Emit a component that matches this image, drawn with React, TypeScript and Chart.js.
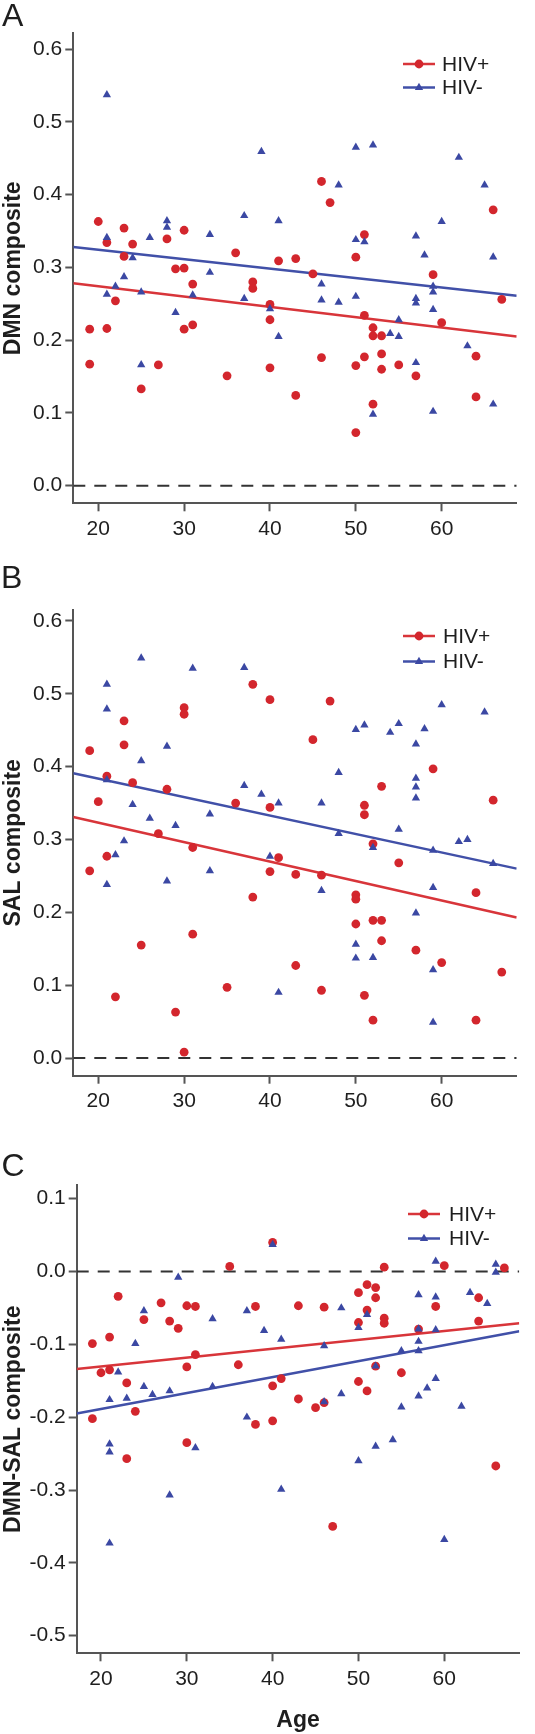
import React, { useEffect, useRef } from "react";
import { Chart, registerables } from "chart.js";

Chart.register(...registerables);

const FONT = "'Liberation Sans', Arial, Helvetica, sans-serif";
const RED = "#d3262d";
const BLUE = "#3b48a3";
const RED_LINE = "#d8353a";
const BLUE_LINE = "#4150a8";
const AXIS = "#555555";
const TEXT = "#1e1e1e";

// ---------- shared tick labels ----------
const xTickValues = [20, 30, 40, 50, 60];
const yTicksAB = [0, 0.1, 0.2, 0.3, 0.4, 0.5, 0.6];
const yTicksC = [-0.5, -0.4, -0.3, -0.2, -0.1, 0, 0.1];

// ---------- Panel A: DMN composite ----------
const dmnPlusAge = [46, 47, 66, 20, 23, 30, 51, 24, 21, 28, 36, 50, 23, 41, 43, 29, 30, 45, 59, 31, 38, 38, 19, 21, 22, 19, 25, 27, 30, 31, 35, 40, 40, 40, 43, 46, 50, 50, 51, 51, 52, 52, 52, 53, 53, 53, 55, 57, 60, 64, 64, 67];
const dmnPlusVal = [0.418, 0.389, 0.379, 0.363, 0.354, 0.351, 0.345, 0.332, 0.334, 0.339, 0.320, 0.314, 0.315, 0.309, 0.312, 0.298, 0.299, 0.291, 0.290, 0.277, 0.280, 0.271, 0.215, 0.216, 0.254, 0.167, 0.133, 0.166, 0.215, 0.221, 0.151, 0.249, 0.228, 0.162, 0.124, 0.176, 0.165, 0.073, 0.234, 0.177, 0.217, 0.206, 0.112, 0.206, 0.181, 0.160, 0.166, 0.151, 0.224, 0.178, 0.122, 0.256];
const dmnMinusAge = [21, 39, 50, 52, 62, 48, 65, 37, 41, 60, 28, 28, 26, 21, 33, 57, 50, 51, 58, 66, 24, 23, 33, 22, 21, 25, 31, 29, 37, 40, 41, 46, 46, 48, 50, 59, 59, 59, 57, 57, 55, 54, 55, 57, 25, 63, 66, 52, 59];
const dmnMinusVal = [0.537, 0.459, 0.465, 0.468, 0.451, 0.413, 0.413, 0.371, 0.364, 0.363, 0.364, 0.355, 0.341, 0.341, 0.345, 0.343, 0.338, 0.335, 0.317, 0.314, 0.313, 0.287, 0.293, 0.274, 0.263, 0.266, 0.262, 0.238, 0.257, 0.243, 0.205, 0.277, 0.255, 0.252, 0.260, 0.274, 0.266, 0.242, 0.257, 0.251, 0.228, 0.209, 0.205, 0.169, 0.166, 0.192, 0.112, 0.098, 0.102];
const dmnFitPlus = [0.278, 0.205];
const dmnFitMinus = [0.328, 0.261];
const dmnXRange = [17.09, 68.74];
const dmnYRange = [-0.0242, 0.6216];

// ---------- Panel B: SAL composite ----------
const salPlusAge = [38, 40, 47, 30, 30, 23, 23, 19, 45, 59, 21, 24, 28, 53, 20, 36, 40, 51, 51, 66, 27, 31, 52, 21, 41, 55, 19, 40, 43, 46, 38, 50, 50, 64, 50, 52, 53, 53, 31, 25, 57, 60, 43, 67, 35, 46, 22, 51, 29, 52, 64, 30];
const salPlusVal = [0.513, 0.492, 0.490, 0.481, 0.472, 0.463, 0.430, 0.422, 0.437, 0.397, 0.387, 0.378, 0.369, 0.373, 0.352, 0.350, 0.344, 0.347, 0.334, 0.354, 0.308, 0.289, 0.294, 0.277, 0.275, 0.268, 0.257, 0.256, 0.252, 0.251, 0.221, 0.224, 0.218, 0.227, 0.184, 0.189, 0.189, 0.161, 0.170, 0.155, 0.148, 0.131, 0.127, 0.118, 0.097, 0.093, 0.084, 0.086, 0.063, 0.052, 0.052, 0.008];
const salMinusAge = [25, 31, 37, 21, 21, 60, 65, 50, 51, 54, 55, 58, 57, 28, 25, 48, 57, 57, 57, 37, 39, 41, 46, 21, 24, 26, 33, 29, 23, 48, 55, 52, 62, 63, 59, 22, 40, 66, 21, 28, 33, 46, 59, 57, 50, 50, 52, 59, 41, 59];
const salMinusVal = [0.549, 0.535, 0.536, 0.513, 0.479, 0.485, 0.475, 0.451, 0.457, 0.447, 0.459, 0.452, 0.431, 0.428, 0.408, 0.392, 0.384, 0.372, 0.357, 0.374, 0.362, 0.350, 0.350, 0.382, 0.348, 0.329, 0.335, 0.319, 0.298, 0.308, 0.314, 0.289, 0.297, 0.300, 0.285, 0.279, 0.277, 0.267, 0.238, 0.243, 0.257, 0.230, 0.234, 0.199, 0.156, 0.137, 0.138, 0.121, 0.090, 0.049];
const salFitPlus = [0.331, 0.193];
const salFitMinus = [0.391, 0.260];
const salXRange = [17.09, 68.74];
const salYRange = [-0.0243, 0.6151];

// ---------- Panel C: DMN-SAL composite ----------
const difPlusAge = [40, 35, 53, 60, 67, 22, 27, 30, 31, 38, 43, 46, 59, 64, 64, 50, 51, 52, 52, 51, 50, 53, 53, 25, 28, 29, 19, 21, 20, 21, 31, 36, 30, 23, 40, 41, 50, 51, 55, 43, 45, 46, 19, 24, 38, 40, 30, 23, 47, 66, 52, 57];
const difPlusVal = [0.040, 0.007, 0.006, 0.008, 0.005, -0.034, -0.043, -0.047, -0.048, -0.048, -0.047, -0.049, -0.048, -0.036, -0.068, -0.029, -0.018, -0.022, -0.036, -0.053, -0.070, -0.064, -0.071, -0.066, -0.068, -0.078, -0.099, -0.090, -0.139, -0.135, -0.114, -0.128, -0.131, -0.153, -0.157, -0.147, -0.151, -0.164, -0.139, -0.175, -0.187, -0.180, -0.202, -0.192, -0.210, -0.205, -0.235, -0.257, -0.350, -0.267, -0.130, -0.079];
const difMinusAge = [40, 29, 59, 66, 66, 57, 59, 63, 65, 48, 25, 33, 37, 51, 50, 57, 59, 39, 41, 57, 24, 46, 55, 57, 52, 22, 25, 33, 26, 28, 21, 23, 48, 59, 58, 57, 62, 55, 46, 37, 54, 21, 21, 31, 52, 50, 28, 41, 21, 60];
const difMinusVal = [0.037, -0.008, 0.014, 0.010, -0.001, -0.032, -0.035, -0.029, -0.044, -0.050, -0.054, -0.065, -0.054, -0.059, -0.077, -0.079, -0.080, -0.081, -0.093, -0.096, -0.099, -0.102, -0.109, -0.109, -0.130, -0.138, -0.158, -0.158, -0.169, -0.164, -0.176, -0.174, -0.168, -0.147, -0.160, -0.171, -0.185, -0.186, -0.179, -0.200, -0.231, -0.237, -0.248, -0.242, -0.240, -0.260, -0.307, -0.299, -0.373, -0.368];
const difFitPlus = [-0.134, -0.071];
const difFitMinus = [-0.195, -0.082];
const difXRange = [17.17, 68.74];
const difYRange = [-0.5242, 0.1188];

const seriesLabels = ["HIV+", "HIV-"];

// ---------- custom legend (line + marker + label) ----------
const legendPlugin = {
  id: "hivLegend",
  afterDatasetsDraw(chart: any, _args: any, opts: any) {
    const ctx = chart.ctx as CanvasRenderingContext2D;
    const items = [
      { label: seriesLabels[0], color: RED, line: RED_LINE, style: "circle" },
      { label: seriesLabels[1], color: BLUE, line: BLUE_LINE, style: "triangle" },
    ];
    ctx.save();
    items.forEach((it, i) => {
      const y = opts.y0 + i * opts.gap;
      ctx.strokeStyle = it.line;
      ctx.lineWidth = 2.5;
      ctx.beginPath();
      ctx.moveTo(opts.x0, y);
      ctx.lineTo(opts.x1, y);
      ctx.stroke();
      const cx = (opts.x0 + opts.x1) / 2;
      ctx.fillStyle = it.color;
      ctx.beginPath();
      if (it.style === "circle") {
        ctx.arc(cx, y, 4.4, 0, Math.PI * 2);
      } else {
        const r = 4.8;
        ctx.moveTo(cx, y - r);
        ctx.lineTo(cx + r * 0.866, y + r * 0.5);
        ctx.lineTo(cx - r * 0.866, y + r * 0.5);
        ctx.closePath();
      }
      ctx.fill();
      ctx.fillStyle = TEXT;
      ctx.font = `21px ${FONT}`;
      ctx.textBaseline = "middle";
      ctx.textAlign = "left";
      ctx.fillText(it.label, opts.tx, y + 1);
    });
    ctx.restore();
  },
};

const fmt = (v: number) => (Math.abs(v) < 1e-9 ? 0 : v).toFixed(1);

function buildConfig(p: any) {
  const pts = (ages: number[], vals: number[]) => ages.map((a, i) => ({ x: a, y: vals[i] }));
  return {
    type: "scatter",
    data: {
      datasets: [
        {
          label: seriesLabels[1],
          data: pts(p.minusAge, p.minusVal),
          pointStyle: "triangle",
          pointRadius: 4.8,
          pointHoverRadius: 4.8,
          backgroundColor: BLUE,
          borderWidth: 0,
          order: 1,
        },
        {
          label: seriesLabels[0],
          data: pts(p.plusAge, p.plusVal),
          pointStyle: "circle",
          pointRadius: 4.4,
          pointHoverRadius: 4.4,
          backgroundColor: RED,
          borderWidth: 0,
          order: 2,
        },
        {
          type: "line",
          label: "fit HIV-",
          data: pts(p.xRange, p.fitMinus),
          borderColor: BLUE_LINE,
          borderWidth: 2.5,
          pointRadius: 0,
          fill: false,
          tension: 0,
          order: 3,
        },
        {
          type: "line",
          label: "fit HIV+",
          data: pts(p.xRange, p.fitPlus),
          borderColor: RED_LINE,
          borderWidth: 2.5,
          pointRadius: 0,
          fill: false,
          tension: 0,
          order: 4,
        },
        {
          type: "line",
          label: "zero",
          data: pts(p.xRange, [0, 0]),
          borderColor: "#333333",
          borderWidth: 2,
          borderDash: [12, 9],
          pointRadius: 0,
          fill: false,
          order: 5,
        },
      ],
    },
    options: {
      animation: false,
      responsive: false,
      devicePixelRatio: 1,
      events: [],
      layout: { padding: { top: p.padTop, right: p.padRight, bottom: 0, left: 0 } },
      plugins: {
        legend: { display: false },
        tooltip: { enabled: false },
        hivLegend: p.legend,
      },
      scales: {
        x: {
          type: "linear",
          min: p.xRange[0],
          max: p.xRange[1],
          afterBuildTicks: (s: any) => {
            s.ticks = xTickValues.map((v) => ({ value: v }));
          },
          afterFit: (s: any) => {
            s.height = p.xHeight;
          },
          grid: { display: true, drawOnChartArea: false, drawTicks: true, tickLength: 8, tickWidth: 2, tickColor: AXIS },
          border: { display: true, color: AXIS, width: 2 },
          ticks: { color: TEXT, font: { family: FONT, size: 21 }, padding: 5, maxRotation: 0, callback: (v: any) => String(v) },
          title: p.xTitle
            ? { display: true, text: p.xTitle, color: TEXT, font: { family: FONT, size: 23, weight: "bold" }, padding: { top: 0, bottom: 0 } }
            : { display: false },
        },
        y: {
          type: "linear",
          min: p.yRange[0],
          max: p.yRange[1],
          afterBuildTicks: (s: any) => {
            s.ticks = p.yTicks.map((v: number) => ({ value: v }));
          },
          afterFit: (s: any) => {
            s.width = p.yWidth;
          },
          grid: { display: true, drawOnChartArea: false, drawTicks: true, tickLength: 8, tickWidth: 2, tickColor: AXIS },
          border: { display: true, color: AXIS, width: 2 },
          ticks: { color: TEXT, font: { family: FONT, size: 21 }, padding: 3, callback: (v: any) => fmt(Number(v)) },
          title: { display: true, text: p.yTitle, color: TEXT, font: { family: FONT, size: 23, weight: "bold" }, padding: { top: 0, bottom: 0 } },
        },
      },
    },
    plugins: [legendPlugin],
  };
}

const panels = [
  {
    key: "A",
    top: 0,
    height: 560,
    letterTop: -1,
    letterLeft: 2,
    cfg: {
      plusAge: dmnPlusAge, plusVal: dmnPlusVal, minusAge: dmnMinusAge, minusVal: dmnMinusVal,
      fitPlus: dmnFitPlus, fitMinus: dmnFitMinus, xRange: dmnXRange, yRange: dmnYRange, yTicks: yTicksAB,
      yTitle: "DMN composite", xTitle: null,
      padTop: 33.3, padRight: 18.3, yWidth: 73.3, xHeight: 560 - 503.3,
      legend: { x0: 403, x1: 435, tx: 442, y0: 64, gap: 23.5 },
    },
  },
  {
    key: "B",
    top: 560,
    height: 580,
    letterTop: 560.5,
    letterLeft: 1,
    cfg: {
      plusAge: salPlusAge, plusVal: salPlusVal, minusAge: salMinusAge, minusVal: salMinusVal,
      fitPlus: salFitPlus, fitMinus: salFitMinus, xRange: salXRange, yRange: salYRange, yTicks: yTicksAB,
      yTitle: "SAL composite", xTitle: null,
      padTop: 50, padRight: 18.3, yWidth: 73.3, xHeight: 580 - 515.7,
      legend: { x0: 403, x1: 435, tx: 443, y0: 76, gap: 25.5 },
    },
  },
  {
    key: "C",
    top: 1140,
    height: 594,
    letterTop: 1149,
    letterLeft: 1.5,
    cfg: {
      plusAge: difPlusAge, plusVal: difPlusVal, minusAge: difMinusAge, minusVal: difMinusVal,
      fitPlus: difFitPlus, fitMinus: difFitMinus, xRange: difXRange, yRange: difYRange, yTicks: yTicksC,
      yTitle: "DMN-SAL composite", xTitle: "Age",
      padTop: 45, padRight: 15.7, yWidth: 76.7, xHeight: 594 - 513.3,
      legend: { x0: 408, x1: 440, tx: 449, y0: 74, gap: 24.5 },
    },
  },
];

function Panel({ top, height, cfg }: { top: number; height: number; cfg: any }) {
  const ref = useRef<HTMLCanvasElement | null>(null);
  useEffect(() => {
    if (!ref.current) return;
    const chart = new Chart(ref.current, buildConfig(cfg) as any);
    return () => chart.destroy();
  }, [cfg]);
  return (
    <div style={{ position: "absolute", left: 0, top, width: 535, height }}>
      <canvas ref={ref} width={535} height={height} style={{ display: "block", width: 535, height }} />
    </div>
  );
}

export default function App() {
  return (
    <div style={{ position: "absolute", left: 0, top: 0, width: 535, height: 1734, background: "#ffffff", overflow: "hidden" }}>
      {panels.map((p) => (
        <Panel key={p.key} top={p.top} height={p.height} cfg={p.cfg} />
      ))}
      {panels.map((p) => (
        <div
          key={"L" + p.key}
          style={{
            position: "absolute",
            left: p.letterLeft,
            top: p.letterTop,
            fontFamily: FONT,
            fontSize: 32,
            lineHeight: "32px",
            color: TEXT,
          }}
        >
          {p.key}
        </div>
      ))}
    </div>
  );
}
